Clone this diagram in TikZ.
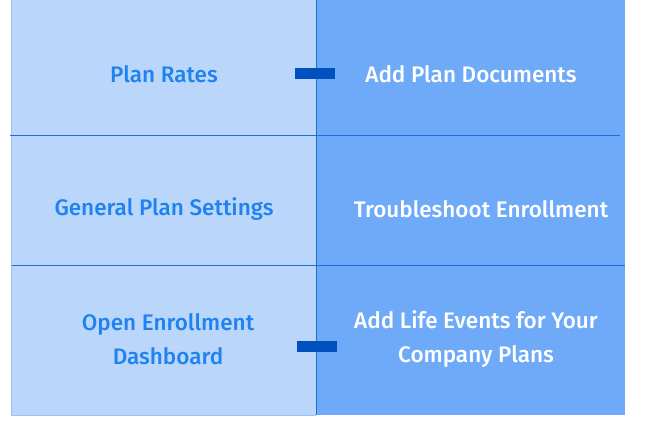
\documentclass[tikz,border=0pt]{standalone}
\usepackage{fontspec}
\setmainfont{Fira Sans}[UprightFont=* Medium]
\usetikzlibrary{positioning}
\definecolor{lightcell}{HTML}{BBD6FB}
\definecolor{darkcell}{HTML}{6EAAF8}
\definecolor{rule}{HTML}{1C6FD6}
\definecolor{linktext}{HTML}{1E82F0}
\definecolor{barblue}{HTML}{0050C0}

\begin{document}
\begin{tikzpicture}[x=1pt,y=-1pt,line cap=butt]
	\tikzstyle{lefttext}=[text=linktext,font=\fontsize{22.5}{34}\selectfont,align=center];
	\tikzstyle{righttext}=[text=white,font=\fontsize{22.5}{34}\selectfont,align=center];
	\tikzstyle{bar}=[fill=barblue,draw=none];
	\useasboundingbox (0,0) rectangle (645,437);

	\fill[lightcell] (11,0) rectangle (316,415);
	\fill[darkcell] (316,0) rectangle (625,415);
	\draw[lightcell!80!rule,thin] (11,0) -- (11,415) -- (316,415);
	\draw[rule,thin] (10,135) -- (620,135);
	\draw[rule,thin] (12,265) -- (625,265);
	\draw[rule,thin] (316,0) -- (316,415);

	\node[lefttext] (rates) at (164,74) {Plan Rates};
	\node[righttext] (docs) at (471,74) {Add Plan Documents};
	\node[lefttext] (settings) at (164,209) {General Plan Settings};
	\node[righttext] (trouble) at (481,209) {Troubleshoot Enrollment};
	\node[lefttext] (open) at (168,339) {Open Enrollment\\Dashboard};
	\node[righttext] (life) at (476,339) {Add Life Events for Your\\Company Plans};

	\fill[bar] (295,68) rectangle (335,79);
	\fill[bar] (297,341) rectangle (337,352);
\end{tikzpicture}
\end{document}
